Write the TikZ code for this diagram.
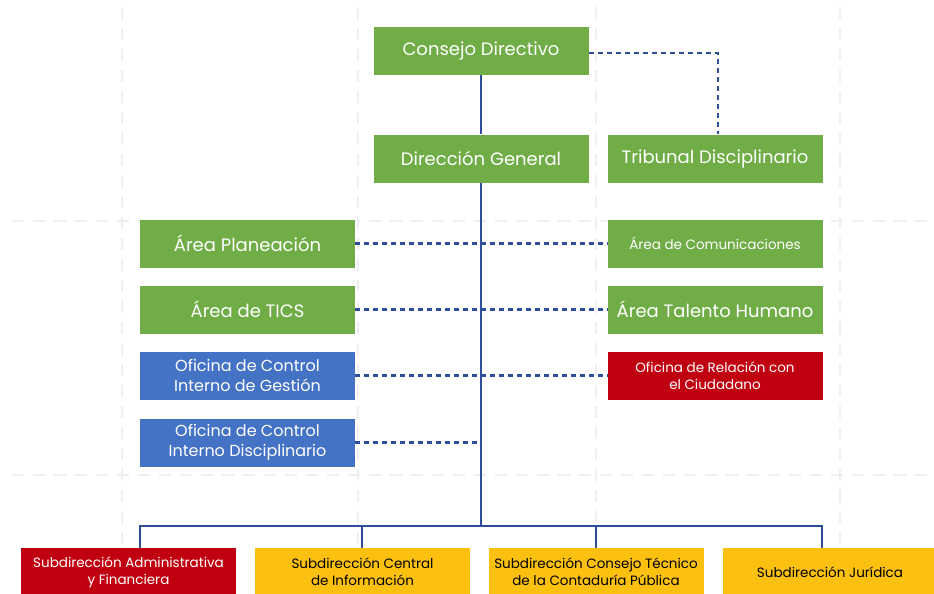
\documentclass[tikz,border=0pt]{standalone}
\usepackage{fontspec}
\setmainfont{Poppins}
\definecolor{cgreen}{HTML}{70AD47}
\definecolor{cblue}{HTML}{4472C4}
\definecolor{cred}{HTML}{C00010}
\definecolor{cyellow}{HTML}{FCC010}
\definecolor{cline}{HTML}{2E4D9C}
\definecolor{cgrid}{HTML}{EDEFF3}
\begin{document}
\begin{tikzpicture}[x=1pt,y=-1pt,
  box/.style={minimum width=215pt,minimum height=48pt,inner sep=0pt,align=center,text=white,font=\fontsize{18}{21}\selectfont},
  gbox/.style={box,fill=cgreen},
  bbox/.style={box,fill=cblue,font=\fontsize{16}{20}\selectfont},
  rbox/.style={box,fill=cred,font=\fontsize{13.5}{17}\selectfont},
  ybox/.style={box,fill=cyellow,text=black,font=\fontsize{13.5}{17}\selectfont},
  solidln/.style={cline,line width=1.9pt},
  dashln/.style={cline,line width=2.2pt,dash pattern=on 5pt off 4pt},
  gridln/.style={cgrid,line width=1.4pt,dash pattern=on 12pt off 9pt}]
\useasboundingbox (0,0) rectangle (934,594);
% background grid
\foreach \x in {122,358,596,840} \draw[gridln] (\x,7) -- (\x,594);
\foreach \y in {221,475} \draw[gridln] (12,\y) -- (934,\y);
% nodes
\node[gbox] (cd) at (481,51) {Consejo Directivo};
\node[gbox] (dg) at (481,158.5) {Dirección General};
\node[gbox] (td) at (715,158.5) {Tribunal Disciplinario};
\node[gbox] (ap) at (247.5,243.5) {Área Planeación};
\node[gbox,font=\fontsize{13.5}{16}\selectfont] (ac) at (715,243.5) {Área de Comunicaciones};
\node[gbox] (at) at (247.5,309.5) {Área de TICS};
\node[gbox] (ath) at (715,309.5) {Área Talento Humano};
\node[bbox] (ocg) at (247.5,375.5) {Oficina de Control\\Interno de Gestión};
\node[rbox] (orc) at (715,375.5) {Oficina de Relación con\\el Ciudadano};
\node[bbox] (ocd) at (247.5,442.5) {Oficina de Control\\Interno Disciplinario};
\node[rbox,anchor=north] (s1) at (128.5,548) {Subdirección Administrativa\\y Financiera};
\node[ybox,anchor=north] (s2) at (362.5,548) {Subdirección Central\\de Información};
\node[ybox,anchor=north] (s3) at (596,548) {Subdirección Consejo Técnico\\de la Contaduría Pública};
\node[ybox,anchor=north] (s4) at (830,548) {Subdirección Jurídica};
% coordinates
\coordinate (trunkend) at (481,526);
\coordinate (ocdend) at (481,442.5);
\coordinate (tdcorner) at (718,53);
% solid lines
\draw[solidln] (cd.south) -- (dg.north);
\draw[solidln] (dg.south) -- (trunkend);
\draw[solidln] (140,548) -- (140,526) -- (822,526) -- (822,548);
\draw[solidln] (362,526) -- (362,548);
\draw[solidln] (596,526) -- (596,548);
% dashed lines
\draw[dashln] (cd.east |- tdcorner) -- (tdcorner) -- (tdcorner |- td.north);
\draw[dashln] (ap.east) -- (ac.west);
\draw[dashln] (at.east) -- (ath.west);
\draw[dashln] (ocg.east) -- (orc.west);
\draw[dashln] (ocd.east) -- (ocdend);
\end{tikzpicture}
\end{document}
